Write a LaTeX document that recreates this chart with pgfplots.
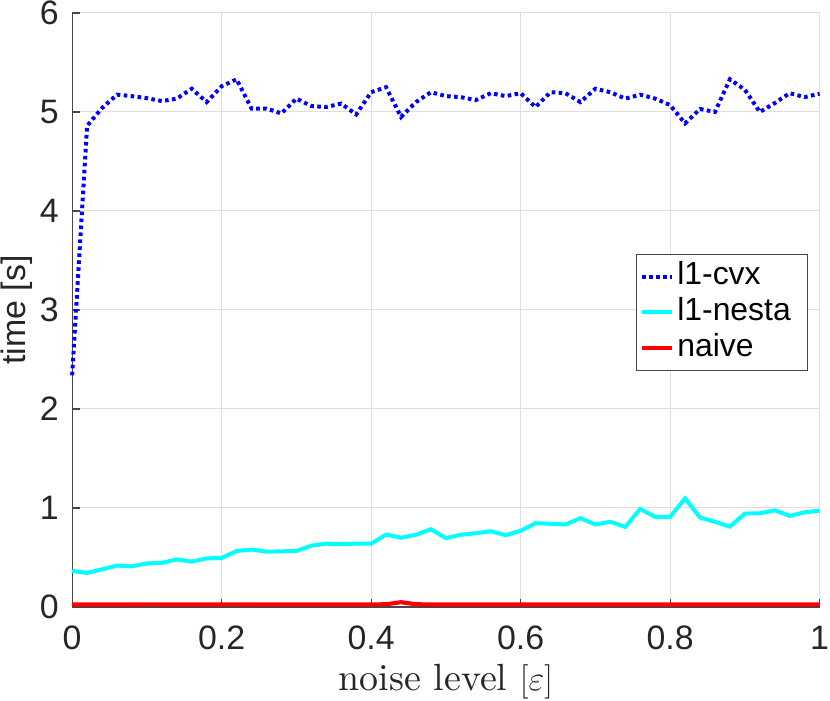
\documentclass[border=0pt]{standalone}
\usepackage{pgfplots}
\pgfplotsset{compat=1.18}
\usepackage{fontspec}
\setsansfont{Liberation Sans}
\newfontfamily\lmten{lmroman10-regular.otf}
\definecolor{axgray}{RGB}{38,38,38}
\definecolor{gridgray}{RGB}{223,223,223}
\definecolor{cvxblue}{RGB}{0,0,255}
\definecolor{nestacyan}{RGB}{0,255,255}
\definecolor{naivered}{RGB}{255,0,0}
\begin{document}
\begin{tikzpicture}
\begin{axis}[
  scale only axis,
  width=375pt, height=298pt,
  xmin=0, xmax=1, ymin=0, ymax=6,
  axis x line*=bottom, axis y line*=left,
  axis line style={axgray!85, line width=0.6pt},
  xtick={0,0.2,0.4,0.6,0.8,1},
  ytick={0,1,2,3,4,5,6},
  tick align=inside,
  major tick length=4pt,
  tick style={axgray!85, line width=0.6pt},
  grid=major,
  major grid style={gridgray, line width=0.5pt},
  /pgf/number format/assume math mode=true,
  ticklabel style={font=\sffamily\fontsize{17}{20}\selectfont, text=axgray, inner sep=0.5pt},
  xticklabel shift=9pt,
  yticklabel shift=6pt,
  xlabel={\lmten noise level $[\varepsilon]$},
  xlabel style={font=\fontsize{19}{23}\selectfont, text=axgray, inner sep=0.5pt},
  xlabel shift=6pt,
  ylabel={time [s]},
  ylabel style={font=\sffamily\fontsize{17}{20}\selectfont, text=axgray, inner sep=0.5pt},
  ylabel shift=2.5pt,
  clip=false,
  legend style={
    at={(0.985,0.594)}, anchor=north east,
    draw=axgray!85, line width=0.5pt,
    font=\sffamily\fontsize{16}{19}\selectfont,
    nodes={inner sep=1.5pt, text height=11.5pt, text depth=3.5pt, text width=62pt},
    inner xsep=2pt, inner ysep=2pt,
  },
  legend cell align=left,
  legend image code/.code={\draw[#1] (0pt,0pt) -- (15pt,0pt);},
]
\addplot[cvxblue, line width=2pt, dash pattern=on 1.8pt off 1.7pt] coordinates {
(0,2.34) (0.02,4.86) (0.04,5.04) (0.06,5.175) (0.08,5.16) (0.10,5.14)
(0.12,5.11) (0.14,5.135) (0.16,5.235) (0.18,5.10) (0.20,5.26) (0.22,5.33)
(0.24,5.035) (0.26,5.035) (0.28,4.985) (0.30,5.135) (0.32,5.06) (0.34,5.05)
(0.36,5.085) (0.38,4.975) (0.40,5.20) (0.42,5.25) (0.44,4.95) (0.46,5.10)
(0.48,5.20) (0.50,5.16) (0.52,5.15) (0.54,5.12) (0.56,5.19) (0.58,5.16)
(0.60,5.19) (0.62,5.05) (0.64,5.20) (0.66,5.19) (0.68,5.10) (0.70,5.235)
(0.72,5.20) (0.74,5.135) (0.76,5.175) (0.78,5.135) (0.80,5.07) (0.82,4.885)
(0.84,5.03) (0.86,5.00) (0.88,5.33) (0.90,5.225) (0.92,5.00) (0.94,5.09)
(0.96,5.19) (0.98,5.15) (1.00,5.185)
};
\addlegendentry{l1-cvx}
\addplot[nestacyan, line width=2pt] coordinates {
(0,0.364) (0.02,0.344) (0.04,0.38) (0.06,0.418) (0.08,0.41) (0.10,0.44)
(0.12,0.445) (0.14,0.48) (0.16,0.458) (0.18,0.49) (0.20,0.495) (0.22,0.565)
(0.24,0.58) (0.26,0.558) (0.28,0.562) (0.30,0.565) (0.32,0.619) (0.34,0.639)
(0.36,0.635) (0.38,0.639) (0.40,0.639) (0.42,0.732) (0.44,0.699) (0.46,0.729)
(0.48,0.785) (0.50,0.695) (0.52,0.729) (0.54,0.745) (0.56,0.765) (0.58,0.725)
(0.60,0.769) (0.62,0.846) (0.64,0.84) (0.66,0.833) (0.68,0.896) (0.70,0.833)
(0.72,0.86) (0.74,0.809) (0.76,0.99) (0.78,0.91) (0.80,0.91) (0.82,1.096)
(0.84,0.903) (0.86,0.86) (0.88,0.812) (0.90,0.943) (0.92,0.946) (0.94,0.976)
(0.96,0.92) (0.98,0.956) (1.00,0.973)
};
\addlegendentry{l1-nesta}
\addplot[naivered, line width=2.1pt] coordinates {
(0,0.025) (0.02,0.025) (0.04,0.024) (0.06,0.025) (0.08,0.025) (0.10,0.026)
(0.12,0.025) (0.14,0.024) (0.16,0.025) (0.18,0.025) (0.20,0.025) (0.22,0.026)
(0.24,0.025) (0.26,0.025) (0.28,0.024) (0.30,0.025) (0.32,0.025) (0.34,0.025)
(0.36,0.025) (0.38,0.025) (0.40,0.025) (0.42,0.027) (0.44,0.048) (0.46,0.027)
(0.48,0.025) (0.50,0.025) (0.52,0.025) (0.54,0.024) (0.56,0.025) (0.58,0.025)
(0.60,0.025) (0.62,0.025) (0.64,0.025) (0.66,0.025) (0.68,0.025) (0.70,0.025)
(0.72,0.025) (0.74,0.025) (0.76,0.025) (0.78,0.025) (0.80,0.025) (0.82,0.025)
(0.84,0.025) (0.86,0.025) (0.88,0.025) (0.90,0.025) (0.92,0.025) (0.94,0.025)
(0.96,0.025) (0.98,0.025) (1.00,0.025)
};
\addlegendentry{naive}
\end{axis}
\end{tikzpicture}
\end{document}
